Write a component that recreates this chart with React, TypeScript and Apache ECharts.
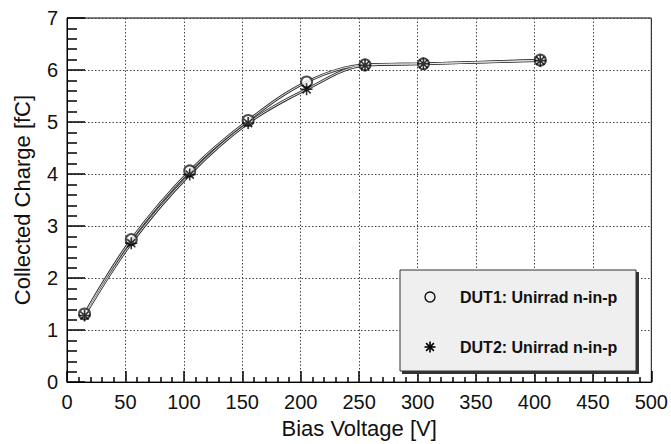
import React, { useEffect, useRef } from "react";
import * as echarts from "echarts";

const biasVoltage = [15, 55, 105, 155, 205, 255, 305, 405];
const dut1Charge = [1.31, 2.74, 4.06, 5.03, 5.77, 6.1, 6.12, 6.19];
const dut2Charge = [1.28, 2.67, 3.99, 4.98, 5.63, 6.09, 6.12, 6.18];
const seriesNames = ["DUT1: Unirrad n-in-p", "DUT2: Unirrad n-in-p"];
const xTitle = "Bias Voltage [V]";
const yTitle = "Collected Charge [fC]";

const ASTERISK = "path://M0,5L10,5M5,0L5,10M1.6,1.6L8.4,8.4M8.4,1.6L1.6,8.4";
const FONT = "'Liberation Sans', Arial, Helvetica, sans-serif";

export default function App() {
  const ref = useRef<HTMLDivElement>(null);
  useEffect(() => {
    if (!ref.current) return;
    const chart = echarts.init(ref.current, undefined, { renderer: "svg" });
    const d1 = biasVoltage.map((x, i) => [x, dut1Charge[i]]);
    const d2 = biasVoltage.map((x, i) => [x, dut2Charge[i]]);
    const outline = (data: number[][]) => ({
      type: "line",
      data,
      smooth: 0.35,
      showSymbol: false,
      silent: true,
      lineStyle: { color: "#333", width: 2.6 },
      z: 3,
    });
    const core = (data: number[][]) => ({
      type: "line",
      data,
      smooth: 0.35,
      showSymbol: false,
      silent: true,
      lineStyle: { color: "#f2f2f2", width: 0.9 },
      z: 4,
    });
    const lx = 430;
    const ly2 = 347;
    const ar = 5.5;
    chart.setOption({
      animation: false,
      grid: {
        left: 67,
        right: 16,
        top: 18,
        bottom: 61,
        show: true,
        borderColor: "#000",
        borderWidth: 1,
        backgroundColor: "#fff",
      },
      xAxis: {
        type: "value",
        min: 0,
        max: 500,
        interval: 50,
        name: xTitle,
        nameLocation: "middle",
        nameGap: 32,
        nameTextStyle: { fontFamily: FONT, fontSize: 22, color: "#111" },
        axisLine: { show: true, onZero: false, lineStyle: { color: "#000", width: 1 } },
        axisTick: { show: true, inside: true, length: 11, lineStyle: { color: "#000", width: 1.5 } },
        minorTick: { show: true, splitNumber: 5, length: 5, lineStyle: { color: "#000", width: 1.5 } },
        axisLabel: { fontFamily: FONT, fontSize: 20, color: "#111", margin: 10 },
        splitLine: { show: true, lineStyle: { color: "#444", type: [1.5, 2], width: 1 } },
      },
      yAxis: {
        type: "value",
        min: 0,
        max: 7,
        interval: 1,
        name: yTitle,
        nameLocation: "middle",
        nameGap: 34,
        nameTextStyle: { fontFamily: FONT, fontSize: 22, color: "#111" },
        axisLine: { show: true, onZero: false, lineStyle: { color: "#000", width: 1 } },
        axisTick: { show: true, inside: true, length: 18, lineStyle: { color: "#000", width: 1.5 } },
        minorTick: { show: true, splitNumber: 5, length: 10, lineStyle: { color: "#000", width: 1.5 } },
        axisLabel: { fontFamily: FONT, fontSize: 20, color: "#111", margin: 9 },
        splitLine: { show: true, lineStyle: { color: "#444", type: [1.5, 2], width: 1 } },
      },
      series: [
        outline(d1),
        outline(d2),
        core(d1),
        core(d2),
        {
          name: seriesNames[0],
          type: "scatter",
          data: d1,
          symbol: "emptyCircle",
          symbolSize: 11,
          itemStyle: { color: "#222", borderColor: "#222", borderWidth: 1.3 },
          z: 5,
        },
        {
          name: seriesNames[1],
          type: "scatter",
          data: d2,
          symbol: ASTERISK,
          symbolSize: 12,
          itemStyle: { color: "#000", borderColor: "#000", borderWidth: 1.6 },
          z: 6,
        },
      ],
      graphic: [
        {
          type: "rect",
          shape: { x: 402, y: 272, width: 237, height: 102 },
          style: { fill: "#333" },
          z: 10,
        },
        {
          type: "rect",
          shape: { x: 400, y: 270, width: 236, height: 101 },
          style: { fill: "#efefef", stroke: "#333", lineWidth: 1 },
          z: 11,
        },
        {
          type: "circle",
          shape: { cx: lx, cy: 297, r: 5 },
          style: { fill: "none", stroke: "#111", lineWidth: 1.4 },
          z: 12,
        },
        {
          type: "line",
          shape: { x1: lx - ar, y1: ly2, x2: lx + ar, y2: ly2 },
          style: { stroke: "#000", lineWidth: 1.6 },
          z: 12,
        },
        {
          type: "line",
          shape: { x1: lx, y1: ly2 - ar, x2: lx, y2: ly2 + ar },
          style: { stroke: "#000", lineWidth: 1.6 },
          z: 12,
        },
        {
          type: "line",
          shape: { x1: lx - 3.9, y1: ly2 - 3.9, x2: lx + 3.9, y2: ly2 + 3.9 },
          style: { stroke: "#000", lineWidth: 1.6 },
          z: 12,
        },
        {
          type: "line",
          shape: { x1: lx + 3.9, y1: ly2 - 3.9, x2: lx - 3.9, y2: ly2 + 3.9 },
          style: { stroke: "#000", lineWidth: 1.6 },
          z: 12,
        },
        {
          type: "text",
          x: 460,
          y: 297,
          style: {
            text: seriesNames[0],
            fontFamily: FONT,
            fontSize: 16,
            fontWeight: "bold",
            fill: "#111",
            verticalAlign: "middle",
          },
          z: 12,
        },
        {
          type: "text",
          x: 460,
          y: ly2,
          style: {
            text: seriesNames[1],
            fontFamily: FONT,
            fontSize: 16,
            fontWeight: "bold",
            fill: "#111",
            verticalAlign: "middle",
          },
          z: 12,
        },
      ],
    });
    return () => chart.dispose();
  }, []);
  return (
    <div
      ref={ref}
      style={{ position: "fixed", left: 0, top: 0, width: 671, height: 444, background: "#fff" }}
    />
  );
}
